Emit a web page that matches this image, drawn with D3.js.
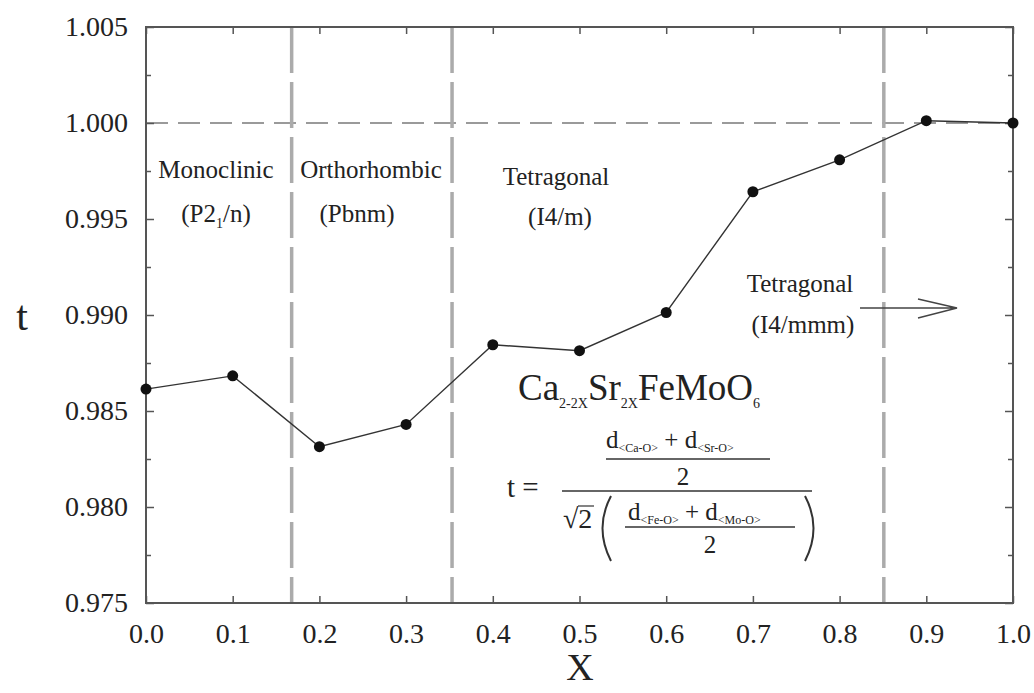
<!DOCTYPE html>
<html>
<head>
<meta charset="utf-8">
<script src="https://cdn.jsdelivr.net/npm/d3@7"></script>
<style>
  body { margin: 0; background: #fff; }
</style>
</head>
<body>
<div id="chart"></div>
<script>
// composition x and tolerance factor t
var xVals = [0.0, 0.1, 0.2, 0.3, 0.4, 0.5, 0.6, 0.7, 0.8, 0.9, 1.0]
var tVals = [0.98614, 0.98683, 0.98314, 0.98430, 0.98845, 0.98814, 0.99013, 0.99642, 0.99808, 1.00012, 1.00000]
var phaseBounds = [0.168, 0.353, 0.851]
var xTicks = [0.0, 0.1, 0.2, 0.3, 0.4, 0.5, 0.6, 0.7, 0.8, 0.9, 1.0]
var yTicks = [0.975, 0.980, 0.985, 0.990, 0.995, 1.000, 1.005]
var yMinor = [0.9775, 0.9825, 0.9875, 0.9925, 0.9975, 1.0025]

const W = 1034, H = 693
const pLeft = 146, pRight = 1013, pTop = 27, pBottom = 603
const serif = "'Liberation Serif', 'Times New Roman', Times, serif"

var svg = d3.select("#chart").append("svg")
  .attr("width", W).attr("height", H)

var x = d3.scaleLinear().domain([0, 1]).range([pLeft, pRight])
var y = d3.scaleLinear().domain([0.975, 1.005]).range([pBottom, pTop])

// dashed reference lines
svg.append("line")
  .attr("x1", x(0)).attr("x2", x(1))
  .attr("y1", y(1.0)).attr("y2", y(1.0))
  .attr("stroke", "#9a9a9a").attr("stroke-width", 2)
  .attr("stroke-dasharray", "22,10")

svg.selectAll(".phase")
  .data(phaseBounds)
  .join("line")
  .attr("class", "phase")
  .attr("x1", d => x(d)).attr("x2", d => x(d))
  .attr("y1", y(1.005)).attr("y2", y(0.975))
  .attr("stroke", "#ababab").attr("stroke-width", 3.5)
  .attr("stroke-dasharray", "46,9")

// axes, ticks pointing inward
var axisColor = "#555"
function styleAxis(g) {
  g.attr("font-family", serif)
  g.select(".domain").remove()
  g.selectAll(".tick line").attr("stroke", axisColor).attr("stroke-width", 1.5)
  g.selectAll(".tick text").style("font-size", "28px").attr("fill", "#222")
}
svg.append("g").attr("transform", `translate(0,${pBottom})`)
  .call(d3.axisBottom(x).tickValues(xTicks).tickFormat(d3.format(".1f")).tickSizeInner(-7).tickSizeOuter(0).tickPadding(20))
  .call(styleAxis)
svg.append("g").attr("transform", `translate(0,${pTop})`)
  .call(d3.axisTop(x).tickValues(xTicks).tickFormat("").tickSizeInner(-7).tickSizeOuter(0))
  .call(styleAxis)
svg.append("g").attr("transform", `translate(${pLeft},0)`)
  .call(d3.axisLeft(y).tickValues(yTicks).tickFormat(d3.format(".3f")).tickSizeInner(-8).tickSizeOuter(0).tickPadding(18))
  .call(styleAxis)
svg.append("g").attr("transform", `translate(${pLeft},0)`)
  .call(d3.axisLeft(y).tickValues(yMinor).tickFormat("").tickSizeInner(-5).tickSizeOuter(0))
  .call(styleAxis)
svg.append("g").attr("transform", `translate(${pRight},0)`)
  .call(d3.axisRight(y).tickValues(yTicks).tickFormat("").tickSizeInner(-8).tickSizeOuter(0))
  .call(styleAxis)
svg.append("g").attr("transform", `translate(${pRight},0)`)
  .call(d3.axisRight(y).tickValues(yMinor).tickFormat("").tickSizeInner(-5).tickSizeOuter(0))
  .call(styleAxis)

svg.append("rect")
  .attr("x", pLeft).attr("y", pTop)
  .attr("width", pRight - pLeft).attr("height", pBottom - pTop)
  .attr("fill", "none").attr("stroke", axisColor).attr("stroke-width", 2)

// axis titles
svg.append("text").attr("x", 22).attr("y", 330)
  .attr("text-anchor", "middle").style("font-size", "42px").text("t")
svg.append("text").attr("x", 580).attr("y", 680)
  .attr("text-anchor", "middle").style("font-size", "38px").text("X")

// data line + points
var data = xVals.map((d, i) => ({ x: d, t: tVals[i] }))
svg.append("path")
  .datum(data)
  .attr("fill", "none").attr("stroke", "#333").attr("stroke-width", 1.4)
  .attr("d", d3.line().x(d => x(d.x)).y(d => y(d.t)))
svg.selectAll(".pt")
  .data(data)
  .join("circle")
  .attr("class", "pt")
  .attr("cx", d => x(d.x)).attr("cy", d => y(d.t))
  .attr("r", 5.5).attr("fill", "#111")

// phase labels
function label(cx, yy, parts, size) {
  var t = svg.append("text").attr("x", cx).attr("y", yy)
    .attr("text-anchor", "middle").style("font-size", size + "px")
  parts.forEach(p => {
    t.append("tspan").text(p[0])
      .style("font-size", (p[1] || size) + "px")
      .attr("dy", p[2] || 0)
  })
}
label(216, 178, [["Monoclinic"]], 25)
label(216, 222, [["(P2"], ["1", 14, 6], ["/n)", 25, -6]], 25)
label(371, 178, [["Orthorhombic"]], 25)
label(357, 222, [["(Pbnm)"]], 25)
label(556, 185, [["Tetragonal"]], 25)
label(560, 225, [["(I4/m)"]], 25)
label(800, 292, [["Tetragonal"]], 25)
label(803, 333, [["(I4/mmm)"]], 25)

// arrow
svg.append("path")
  .attr("d", "M860,308 L957,308 M918,299 L957,308 L918,318")
  .attr("fill", "none").attr("stroke", "#444").attr("stroke-width", 1.4)

// formula
function rich(x0, y0, parts) {
  var t = svg.append("text").attr("x", x0).attr("y", y0)
  parts.forEach(p => {
    t.append("tspan").text(p[0]).style("font-size", p[1] + "px").attr("dy", p[2] || 0)
  })
  return t
}
rich(518, 400, [["Ca", 37], ["2-2X", 14, 8], ["Sr", 37, -8], ["2X", 14, 8], ["FeMoO", 37, -8], ["6", 14, 8]])

rich(507, 497, [["t =", 29]])
svg.append("line").attr("x1", 562).attr("x2", 812).attr("y1", 491).attr("y2", 491)
  .attr("stroke", "#333").attr("stroke-width", 1.5)

rich(606, 448, [["d", 25], ["<Ca-O>", 12, 4], [" + d", 25, -4], ["<Sr-O>", 12, 4]])
svg.append("line").attr("x1", 606).attr("x2", 770).attr("y1", 459).attr("y2", 459)
  .attr("stroke", "#333").attr("stroke-width", 1.5)
svg.append("text").attr("x", 683).attr("y", 485).attr("text-anchor", "middle")
  .style("font-size", "25px").text("2")

svg.append("text").attr("x", 563).attr("y", 528).style("font-size", "28px").text("\u221A2")
svg.append("line").attr("x1", 578).attr("x2", 594).attr("y1", 506).attr("y2", 506)
  .attr("stroke", "#333").attr("stroke-width", 1.2)
svg.append("path")
  .attr("d", "M611,496 Q594,528 611,561 M805,496 Q822,528 805,561")
  .attr("fill", "none").attr("stroke", "#333").attr("stroke-width", 2)
rich(628, 520, [["d", 25], ["<Fe-O>", 12, 4], [" + d", 25, -4], ["<Mo-O>", 12, 4]])
svg.append("line").attr("x1", 625).attr("x2", 795).attr("y1", 527).attr("y2", 527)
  .attr("stroke", "#333").attr("stroke-width", 1.5)
svg.append("text").attr("x", 710).attr("y", 553).attr("text-anchor", "middle")
  .style("font-size", "25px").text("2")

// serif everywhere, like the original figure
svg.selectAll("text").style("font-family", serif).attr("fill", "#222")
</script>
</body>
</html>
